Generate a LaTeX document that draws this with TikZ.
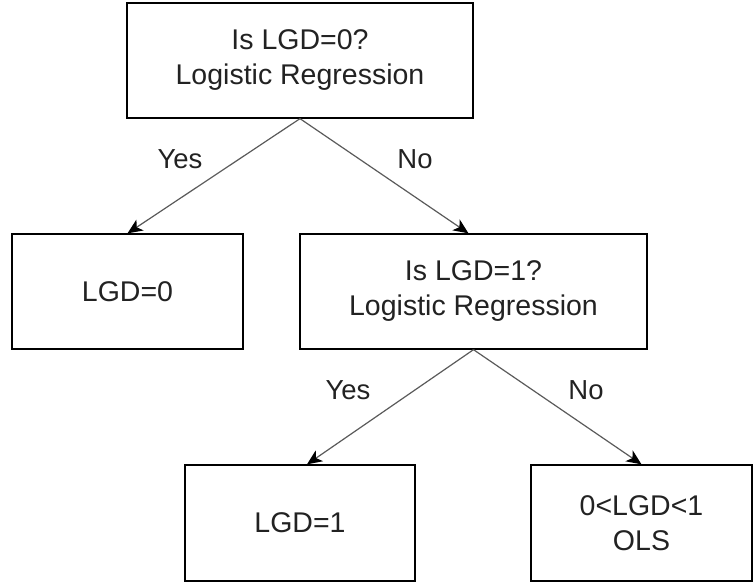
\documentclass[tikz,border=0pt]{standalone}
\usepackage{fontspec}
\setmainfont{Liberation Sans}
\usetikzlibrary{arrows.meta}
\definecolor{txt}{HTML}{222222}
\definecolor{edge}{HTML}{5A5A5A}
\tikzset{
  box/.style={draw=black, line width=1.3pt, fill=white, inner sep=0pt, align=center,
    text=txt, font=\fontsize{28.5}{35}\selectfont},
  conn/.style={draw=edge, line width=1.2pt, -{Stealth[length=15pt,width=13pt,inset=4pt,color=black]}},
  lbl/.style={text=txt, font=\fontsize{27.5}{33}\selectfont, inner sep=0pt}
}
\begin{document}
\begin{tikzpicture}[x=1pt,y=-1pt]
\useasboundingbox (0,0) rectangle (753,586);
\node[box, minimum width=346pt, minimum height=115pt] (top) at (300,60.5) {Is LGD=0?\\Logistic Regression};
\node[box, minimum width=231pt, minimum height=115pt] (l0) at (127.5,291.5) {LGD=0};
\node[box, minimum width=347pt, minimum height=115pt] (mid) at (473.5,291.5) {Is LGD=1?\\Logistic Regression};
\node[box, minimum width=230pt, minimum height=116pt] (l1) at (300,523) {LGD=1};
\node[box, minimum width=221pt, minimum height=116pt] (ols) at (641.5,523) {0<LGD<1\\OLS};
\draw[conn] (top.south) -- (l0.north);
\draw[conn] (top.south) -- ([xshift=-5pt]mid.north);
\draw[conn] (mid.south) -- ([xshift=7pt]l1.north);
\draw[conn] (mid.south) -- (ols.north);
\node[lbl] (y1) at (180,159) {Yes};
\node[lbl] (n1) at (415,159) {No};
\node[lbl] (y2) at (348,390) {Yes};
\node[lbl] (n2) at (586,390) {No};
\end{tikzpicture}
\end{document}
